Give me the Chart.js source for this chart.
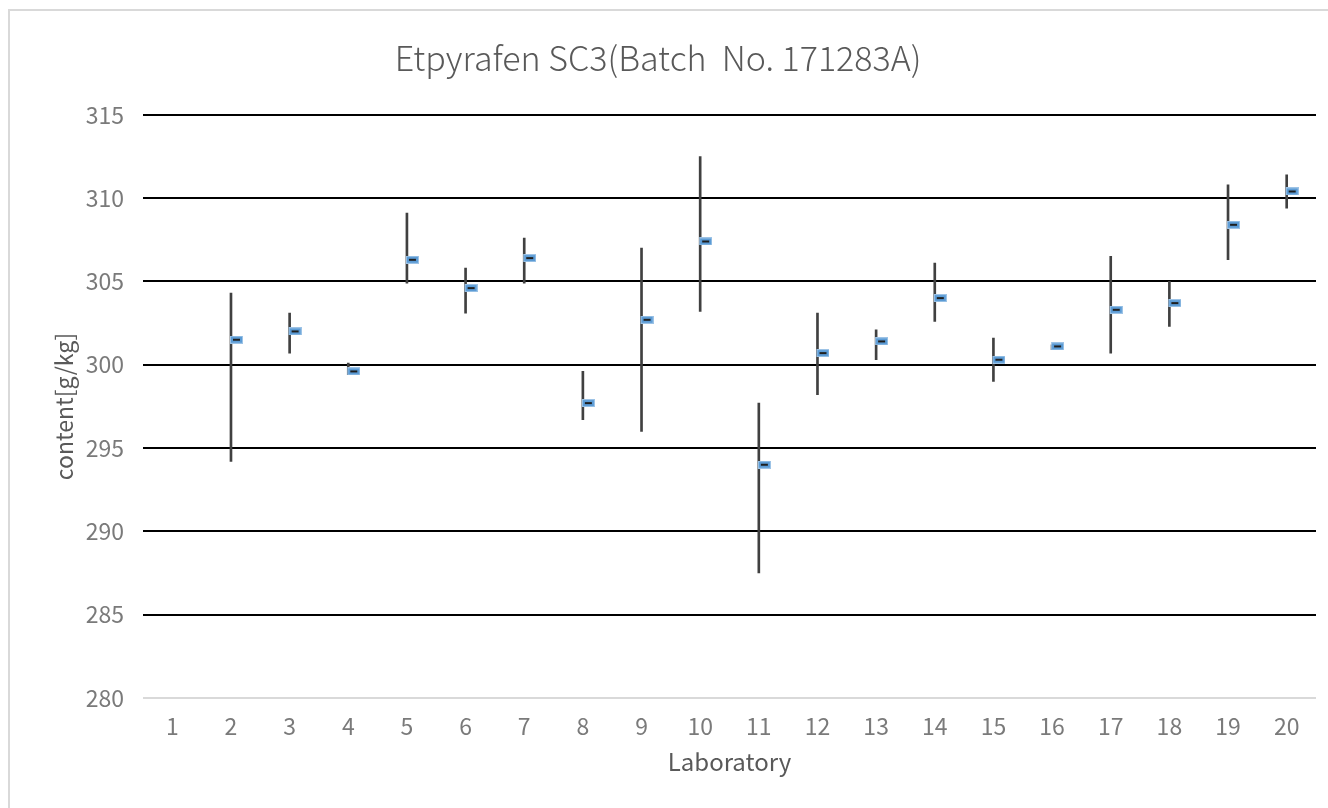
<!DOCTYPE html>
<html>
<head>
<meta charset="utf-8">
<script src="https://cdn.jsdelivr.net/npm/chart.js@4"></script>
<style>
  html, body { margin: 0; padding: 0; background: #fff; overflow: hidden; }
  #frame { position: absolute; left: 8px; top: 9px; width: 1400px; height: 900px; border: 2px solid #d9d9d9; }
  #wrap { position: absolute; left: 0; top: 0; width: 1328px; height: 808px; }
</style>
</head>
<body>
<div id="frame"></div>
<div id="wrap"><canvas id="Chart1" width="1328" height="808"></canvas></div>
<script>
var labs = ['1', '2', '3', '4', '5', '6', '7', '8', '9', '10', '11', '12', '13', '14', '15', '16', '17', '18', '19', '20'];
var highs = [null, 304.3, 303.1, 300.1, 309.1, 305.8, 307.6, 299.6, 307.0, 312.5, 297.7, 303.1, 302.1, 306.1, 301.6, 301.2, 306.5, 305.0, 310.8, 311.4];
var lows = [null, 294.2, 300.7, 299.4, 304.9, 303.1, 304.9, 296.7, 296.0, 303.2, 287.5, 298.2, 300.3, 302.6, 299.0, 300.9, 300.7, 302.3, 306.3, 309.4];
var means = [null, 301.5, 302.0, 299.6, 306.3, 304.6, 306.4, 297.7, 302.7, 307.4, 294.0, 300.7, 301.4, 304.0, 300.3, 301.1, 303.3, 303.7, 308.4, 310.4];
var yTicks = [280, 285, 290, 295, 300, 305, 310, 315];

var textGray = '#595959';
var fontName = "'Noto Sans CJK SC', 'DejaVu Sans', sans-serif";

// blue dash marker, drawn right of the high-low line
const makeMarker = () => {
  var c = document.createElement('canvas');
  c.width = 24;
  c.height = 8;
  var g = c.getContext('2d');
  g.fillStyle = '#9dc3e6';
  g.fillRect(11, 0, 13, 8);
  g.fillStyle = '#5b9bd5';
  g.fillRect(12, 1, 11, 6);
  g.fillStyle = '#1f1f1f';
  g.fillRect(14, 3, 7, 2);
  return c;
}

var ranges = labs.map((l, i) => highs[i] === null ? null : [lows[i], highs[i]]);

const createChart1 = () => {
  var ctx = document.getElementById('Chart1');
  var Chart1 = new Chart(ctx, {
    type: 'bar',
    data: {
      labels: labs,
      datasets: [{
        label: 'range',
        data: ranges,
        backgroundColor: '#404040',
        barThickness: 2,
        order: 2
      }, {
        type: 'line',
        label: 'mean',
        data: means,
        showLine: false,
        pointStyle: makeMarker(),
        order: 1
      }]
    },
    options: {
      responsive: false,
      animation: false,
      layout: { padding: { left: 0, right: 12, top: 0, bottom: 0 } },
      plugins: {
        legend: { display: false },
        tooltip: { enabled: false },
        title: {
          display: true,
          text: 'Etpyrafen SC3(Batch  No. 171283A)',
          color: textGray,
          font: { family: fontName, size: 34, weight: 300 },
          padding: { top: 38, bottom: 36 }
        }
      },
      scales: {
        x: {
          grid: { display: false },
          border: { display: false },
          ticks: {
            color: '#7a7a7a',
            font: { family: fontName, size: 23 },
            padding: 6
          },
          title: {
            display: true,
            text: 'Laboratory',
            color: textGray,
            font: { family: fontName, size: 24 },
            padding: { top: 0, bottom: 32 }
          },
          afterFit: (s) => { s.height = 110; }
        },
        y: {
          min: 280,
          max: 315,
          afterBuildTicks: (s) => { s.ticks = yTicks.map(v => ({ value: v })); },
          grid: {
            color: (c) => c.tick && c.tick.value === 280 ? '#d9d9d9' : '#000000',
            lineWidth: 2,
            drawTicks: false
          },
          border: { display: false },
          ticks: {
            color: '#7a7a7a',
            font: { family: fontName, size: 23 },
            padding: 19
          },
          title: {
            display: true,
            text: 'content[g/kg]',
            color: textGray,
            font: { family: fontName, size: 23 },
            padding: { top: 50, bottom: 0 }
          },
          afterFit: (s) => { s.width = 143; }
        }
      }
    }
  });
}

window.addEventListener('load', () => {
  createChart1();
});
</script>
</body>
</html>
